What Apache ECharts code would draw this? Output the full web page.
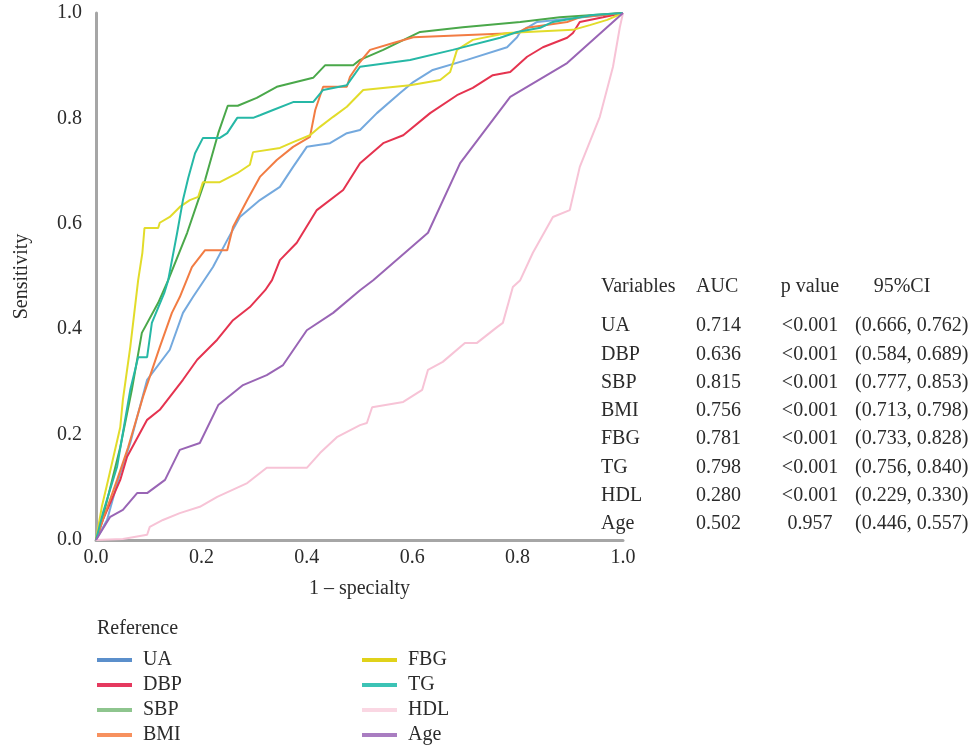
<!DOCTYPE html>
<html>
<head>
<meta charset="utf-8">
<script src="https://cdn.jsdelivr.net/npm/echarts@6/dist/echarts.min.js"></script>
<style>html,body{margin:0;padding:0;background:#fff}#c{width:972px;height:748px}</style>
</head>
<body>
<div id="c"></div>
<script>
// ---- data (false positive rate, sensitivity) ----
const seriesNames = ['UA','DBP','SBP','BMI','FBG','TG','HDL','Age'];
const xTicks = [0, 0.2, 0.4, 0.6, 0.8, 1.0];
const yTicks = [0, 0.2, 0.4, 0.6, 0.8, 1.0];

const uaPts = [[0,0],[0.021,0.038],[0.042,0.114],[0.065,0.184],[0.097,0.304],[0.14,0.361],[0.165,0.431],[0.184,0.461],[0.222,0.518],[0.249,0.569],[0.273,0.613],[0.311,0.645],[0.349,0.67],[0.374,0.708],[0.40,0.746],[0.444,0.753],[0.476,0.772],[0.501,0.778],[0.533,0.81],[0.577,0.848],[0.602,0.869],[0.639,0.892],[0.704,0.911],[0.78,0.935],[0.799,0.954],[0.805,0.964],[0.837,0.983],[0.905,0.99],[1,1]];
const dbpPts = [[0,0],[0.013,0.038],[0.046,0.114],[0.059,0.158],[0.097,0.228],[0.121,0.247],[0.165,0.304],[0.192,0.342],[0.23,0.38],[0.26,0.417],[0.292,0.442],[0.321,0.474],[0.334,0.493],[0.349,0.531],[0.381,0.564],[0.419,0.626],[0.469,0.664],[0.501,0.715],[0.545,0.753],[0.583,0.768],[0.634,0.81],[0.685,0.844],[0.715,0.858],[0.753,0.882],[0.786,0.888],[0.818,0.917],[0.848,0.935],[0.894,0.953],[0.905,0.962],[0.918,0.983],[0.962,0.992],[1,1]];
const sbpPts = [[0,0],[0.015,0.051],[0.046,0.176],[0.068,0.285],[0.087,0.393],[0.118,0.45],[0.137,0.493],[0.173,0.583],[0.207,0.683],[0.232,0.772],[0.25,0.824],[0.269,0.824],[0.305,0.839],[0.343,0.86],[0.412,0.877],[0.435,0.901],[0.488,0.901],[0.501,0.911],[0.545,0.93],[0.615,0.964],[0.696,0.973],[0.805,0.983],[0.88,0.992],[1,1]];
const bmiPts = [[0,0],[0.013,0.038],[0.04,0.114],[0.061,0.176],[0.089,0.271],[0.121,0.366],[0.144,0.431],[0.159,0.461],[0.182,0.518],[0.207,0.55],[0.249,0.55],[0.26,0.594],[0.287,0.645],[0.311,0.689],[0.343,0.721],[0.374,0.746],[0.406,0.765],[0.416,0.816],[0.431,0.86],[0.476,0.86],[0.482,0.879],[0.501,0.907],[0.52,0.93],[0.564,0.943],[0.602,0.954],[0.799,0.962],[0.818,0.972],[0.894,0.983],[0.918,0.992],[1,1]];
const fbgPts = [[0,0],[0.011,0.063],[0.023,0.114],[0.046,0.214],[0.051,0.266],[0.065,0.366],[0.08,0.493],[0.088,0.545],[0.092,0.592],[0.118,0.592],[0.121,0.602],[0.14,0.613],[0.159,0.632],[0.178,0.645],[0.194,0.651],[0.203,0.679],[0.235,0.679],[0.268,0.696],[0.292,0.712],[0.298,0.736],[0.349,0.744],[0.374,0.755],[0.406,0.768],[0.425,0.784],[0.45,0.803],[0.476,0.822],[0.507,0.854],[0.596,0.863],[0.653,0.873],[0.672,0.888],[0.685,0.93],[0.715,0.949],[0.78,0.962],[0.905,0.968],[0.937,0.977],[0.97,0.987],[1,1]];
const tgPts = [[0,0],[0.013,0.051],[0.04,0.139],[0.065,0.285],[0.08,0.347],[0.097,0.347],[0.106,0.412],[0.13,0.47],[0.137,0.493],[0.154,0.583],[0.165,0.645],[0.175,0.687],[0.188,0.734],[0.203,0.763],[0.235,0.763],[0.249,0.772],[0.268,0.801],[0.298,0.801],[0.311,0.806],[0.336,0.816],[0.374,0.831],[0.412,0.831],[0.431,0.854],[0.476,0.863],[0.501,0.898],[0.596,0.911],[0.677,0.93],[0.767,0.953],[0.799,0.964],[0.843,0.972],[0.867,0.983],[0.943,0.996],[1,1]];
const hdlPts = [[0,0],[0.051,0.002],[0.097,0.01],[0.102,0.025],[0.127,0.038],[0.159,0.051],[0.197,0.063],[0.23,0.082],[0.287,0.108],[0.324,0.137],[0.40,0.137],[0.425,0.165],[0.457,0.195],[0.501,0.218],[0.514,0.222],[0.524,0.252],[0.583,0.262],[0.619,0.285],[0.63,0.323],[0.658,0.338],[0.70,0.374],[0.723,0.374],[0.761,0.404],[0.772,0.412],[0.791,0.48],[0.805,0.493],[0.829,0.545],[0.867,0.613],[0.899,0.626],[0.918,0.708],[0.956,0.803],[0.981,0.898],[0.994,0.973],[1,1]];
const agePts = [[0,0],[0.027,0.044],[0.051,0.057],[0.078,0.089],[0.097,0.089],[0.131,0.114],[0.159,0.171],[0.197,0.184],[0.232,0.256],[0.279,0.294],[0.324,0.313],[0.355,0.332],[0.40,0.398],[0.45,0.431],[0.501,0.474],[0.526,0.493],[0.63,0.583],[0.691,0.715],[0.786,0.841],[0.894,0.905],[1,1]];

// table values
const tableHeader = ['Variables','AUC','p value','95%CI'];
const tableAUC = ['0.714','0.636','0.815','0.756','0.781','0.798','0.280','0.502'];
const tableP = ['<0.001','<0.001','<0.001','<0.001','<0.001','<0.001','<0.001','0.957'];
const tableCI = ['(0.666, 0.762)','(0.584, 0.689)','(0.777, 0.853)','(0.713, 0.798)','(0.733, 0.828)','(0.756, 0.840)','(0.229, 0.330)','(0.446, 0.557)'];

// ---- styling ----
const lineColors = ['#74a9de','#e5334f','#4aa84a','#f27c43','#e2dc2a','#26b8a6','#f7c3d6','#9965b5'];
const legendColors = ['#5b8fcb','#e5395f','#8ec58e','#f7915f','#e0d21a','#3cc3b5','#fad7e3','#a97dc1'];
const allPts = [uaPts, dbpPts, sbpPts, bmiPts, fbgPts, tgPts, hdlPts, agePts];
const FONT = '"Liberation Serif", "DejaVu Serif", serif';
const TXT = '#2b2b2b';
const FS = 20;

const chart = echarts.init(document.getElementById('c'), null, {renderer:'canvas'});

const series = seriesNames.map((n,i)=>({
  name:n, type:'line', data:allPts[i], showSymbol:false, symbol:'none',
  lineStyle:{color:lineColors[i], width:2}, itemStyle:{color:legendColors[i]},
  animation:false, z: 2
}));

const graphics = [];
const rowY0 = 326, rowStep = 28.3;
function txt(x, y, s, align){
  return {type:'text', x:x, y:y, style:{text:s, font:FS+'px '+FONT, fill:TXT, align:align, verticalAlign:'middle'}};
}
graphics.push(txt(601, 287, tableHeader[0], 'left'));
graphics.push(txt(696, 287, tableHeader[1], 'left'));
graphics.push(txt(810, 287, tableHeader[2], 'center'));
graphics.push(txt(902, 287, tableHeader[3], 'center'));
seriesNames.forEach((n,i)=>{
  const y = rowY0 + i*rowStep;
  graphics.push(txt(601, y, n, 'left'));
  graphics.push(txt(696, y, tableAUC[i], 'left'));
  graphics.push(txt(810, y, tableP[i], 'center'));
  graphics.push(txt(855, y, tableCI[i], 'left'));
});
graphics.push(txt(97, 629, 'Reference', 'left'));

function legendData(names){
  return names.map(n=>{const i=seriesNames.indexOf(n); return {name:n, itemStyle:{color:legendColors[i]}};});
}
const legendCommon = {
  orient:'vertical', icon:'rect', itemWidth:35, itemHeight:4, itemGap:5,
  textStyle:{fontFamily:FONT, fontSize:FS, color:TXT, lineHeight:20, padding:[0,0,0,6]},
  selectedMode:false, padding:0
};

chart.setOption({
  backgroundColor:'#fff',
  animation:false,
  grid:{left:96, top:13, width:527, height:527},
  xAxis:{
    type:'value', min:0, max:1, interval:0.2,
    name:'1 – specialty', nameLocation:'middle', nameGap:39,
    nameTextStyle:{fontFamily:FONT, fontSize:FS, color:TXT},
    axisLine:{show:true, lineStyle:{color:'#a6a6a6', width:3}},
    axisTick:{show:false}, splitLine:{show:false},
    axisLabel:{fontFamily:FONT, fontSize:FS, color:TXT, margin:8, formatter:v=>v.toFixed(1)}
  },
  yAxis:{
    type:'value', min:0, max:1, interval:0.2,
    name:'Sensitivity', nameLocation:'middle', nameGap:64,
    nameTextStyle:{fontFamily:FONT, fontSize:FS, color:TXT},
    axisLine:{show:true, lineStyle:{color:'#a6a6a6', width:3}},
    axisTick:{show:false}, splitLine:{show:false},
    axisLabel:{fontFamily:FONT, fontSize:FS, color:TXT, margin:14, formatter:v=>v.toFixed(1)}
  },
  legend:[
    Object.assign({left:97, top:650, data:legendData(['UA','DBP','SBP','BMI'])}, legendCommon),
    Object.assign({left:362, top:650, data:legendData(['FBG','TG','HDL','Age'])}, legendCommon)
  ],
  series: series,
  graphic: graphics
});
</script>
</body>
</html>
